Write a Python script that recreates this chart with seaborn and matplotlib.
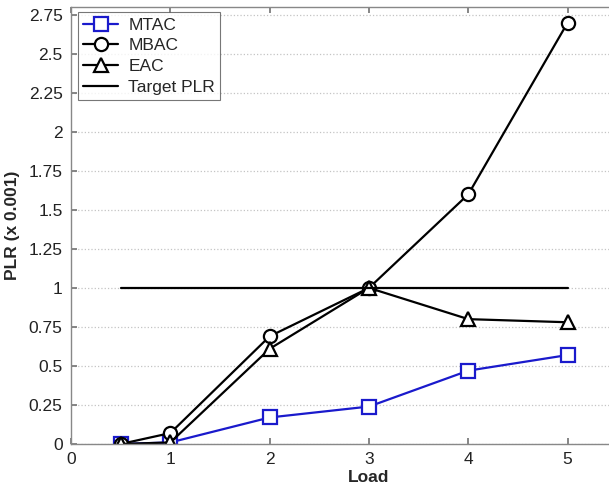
import matplotlib
matplotlib.use("Agg")
import matplotlib.pyplot as plt
import seaborn as sns
import pandas as pd

load = [0.5, 1, 2, 3, 4, 5]
mtac = [0.0, 0.01, 0.17, 0.24, 0.47, 0.57]
mbac = [0.0, 0.07, 0.69, 1.0, 1.6, 2.7]
eac = [0.0, 0.01, 0.61, 1.0, 0.8, 0.78]
target_x = [0.5, 5]
target_y = [1.0, 1.0]
yticks = [0, 0.25, 0.5, 0.75, 1, 1.25, 1.5, 1.75, 2, 2.25, 2.5, 2.75]
yticklabels = ["0", "0.25", "0.5", "0.75", "1", "1.25", "1.5", "1.75", "2", "2.25", "2.5", "2.75"]
xticks = [0, 1, 2, 3, 4, 5]

sns.set_theme(style="white")
plt.rcParams['font.family'] = ['Liberation Sans', 'DejaVu Sans']

fig = plt.figure(figsize=(6.09, 4.91), dpi=100)
ax = fig.add_axes([71/609, 47/491, 596/609, 437/491])

series = [
    ("MTAC", mtac, "s", "#1a1acc"),
    ("MBAC", mbac, "o", "black"),
    ("EAC", eac, "^", "black"),
]
for name, vals, mk, col in series:
    df = pd.DataFrame({"Load": load, "PLR": vals})
    sns.lineplot(data=df, x="Load", y="PLR", ax=ax, color=col, marker=mk,
                 markersize=9.5, markerfacecolor="white", markeredgecolor=col,
                 markeredgewidth=1.6, linewidth=1.6, label=name)

tdf = pd.DataFrame({"Load": target_x, "PLR": target_y})
sns.lineplot(data=tdf, x="Load", y="PLR", ax=ax, color="black", linewidth=1.6,
             label="Target PLR")

ax.set_xlim(0, 6)
ax.set_ylim(0, 2.8)
ax.set_xticks(xticks)
ax.set_xticklabels([str(x) for x in xticks])
ax.set_yticks(yticks)
ax.set_yticklabels(yticklabels)
ax.yaxis.grid(True, linestyle=":", color="#c4c4c4", linewidth=0.9)
ax.xaxis.grid(False)
ax.tick_params(direction="in", length=4, color="#777777", labelsize=12.5,
               labelcolor="#222222", top=True, right=False, bottom=True,
               left=True, pad=6)
for s in ax.spines.values():
    s.set_color("#888888")
    s.set_linewidth(1.0)
ax.set_xlabel("Load", fontsize=12.5, fontweight="bold", labelpad=2)
ax.set_ylabel("PLR (x 0.001)", fontsize=12.5, fontweight="bold", labelpad=6)

leg = ax.legend(loc="upper left", bbox_to_anchor=(0.012, 0.988), fontsize=12.5,
                frameon=True, fancybox=False, edgecolor="#555555",
                handlelength=2.0, borderaxespad=0.0, labelspacing=0.33,
                borderpad=0.3, handletextpad=0.6)
leg.get_frame().set_linewidth(0.8)

fig.savefig("out.png", dpi=100)
